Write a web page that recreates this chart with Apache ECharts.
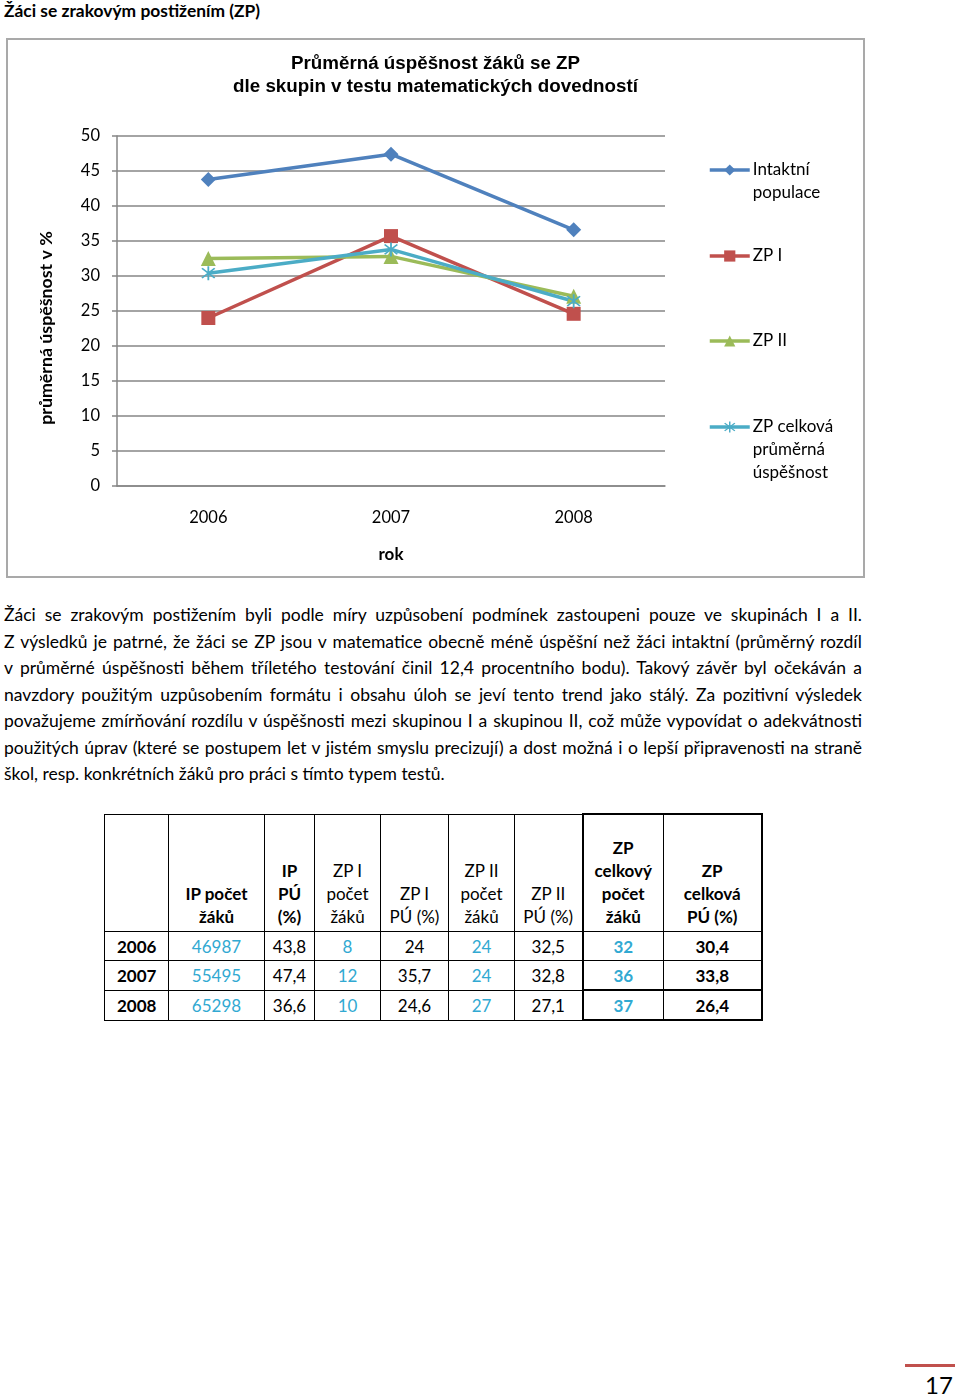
<!DOCTYPE html>
<html>
<head>
<meta charset="utf-8">
<script src="https://cdn.jsdelivr.net/npm/echarts@6/dist/echarts.min.js"></script>
<style>
  body { margin: 0; background: #fff; font-family: Lato, "Open Sans", sans-serif; color: #000; }
  .page { position: relative; width: 960px; height: 1399px; overflow: hidden; }
  .heading { position: absolute; left: 4px; top: 0px; font-weight: bold; font-size: 17.4px; }
  .box { position: absolute; left: 6px; top: 38px; width: 859px; height: 540px; box-sizing: border-box; border: 2px solid #a9a9a9; }
  #chart { width: 100%; height: 100%; }
  .para { position: absolute; left: 4px; top: 602px; width: 858px; font-size: 17.5px; line-height: 26.5px; }
  .para div { white-space: nowrap; text-align: justify; text-align-last: justify; }
  .para div.last { text-align-last: left; }
  table { position: absolute; left: 104px; top: 813px; width: 658px; table-layout: fixed; border-collapse: collapse; font-size: 17px; }
  td { border: 1px solid #000; padding: 0; text-align: center; overflow: hidden; white-space: nowrap; }
  thead td { height: 113px; vertical-align: bottom; padding-bottom: 3px; line-height: 23px; }
  tbody td { height: 28px; }
  td.b { font-weight: bold; }
  td.c { color: #31a9d2; }
  td.yr { text-align: left; padding-left: 12px; font-weight: bold; }
  td.tl { border-left: 2px solid #000; }
  td.tr { border-right: 2px solid #000; }
  td.tt { border-top: 2px solid #000; }
  td.tb { border-bottom: 2px solid #000; }
  .pnum { position: absolute; left: 925px; top: 1370px; font-size: 24px; }
  .pline { position: absolute; left: 905px; top: 1364px; width: 50px; height: 3px; background: #c0504d; }
</style>
</head>
<body>
<div class="page">
  <div class="heading">Žáci se zrakovým postižením (ZP)</div>
  <div class="box"><div id="chart"></div></div>
  <div class="para">
    <div>Žáci se zrakovým postižením byli podle míry uzpůsobení podmínek zastoupeni pouze ve skupinách I a II.</div>
    <div>Z výsledků je patrné, že žáci se ZP jsou v matematice obecně méně úspěšní než žáci intaktní (průměrný rozdíl</div>
    <div>v průměrné úspěšnosti během tříletého testování činil 12,4 procentního bodu). Takový závěr byl očekáván a</div>
    <div>navzdory použitým uzpůsobením formátu i obsahu úloh se jeví tento trend jako stálý. Za pozitivní výsledek</div>
    <div>považujeme zmírňování rozdílu v úspěšnosti mezi skupinou I a skupinou II, což může vypovídat o adekvátnosti</div>
    <div>použitých úprav (které se postupem let v jistém smyslu precizují) a dost možná i o lepší připravenosti na straně</div>
    <div class="last">škol, resp. konkrétních žáků pro práci s tímto typem testů.</div>
  </div>
  <table id="tbl"></table>
  <div class="pline"></div>
  <div class="pnum">17</div>
</div>
<script>
const years = ['2006', '2007', '2008'];
const intaktni = [43.8, 47.4, 36.6];
const zp1 = [24, 35.7, 24.6];
const zp2 = [32.5, 32.8, 27.1];
const zpCelkova = [30.4, 33.8, 26.4];

const ipPocet = [46987, 55495, 65298];
const zp1Pocet = [8, 12, 10];
const zp2Pocet = [24, 24, 27];
const zpPocet = [32, 36, 37];

const seriesNames = ['Intaktní\npopulace', 'ZP I', 'ZP II', 'ZP celková\nprůměrná\núspěšnost'];
const headers = ['', 'IP počet<br>žáků', 'IP<br>PÚ<br>(%)', 'ZP I<br>počet<br>žáků', 'ZP I<br>PÚ (%)',
  'ZP II<br>počet<br>žáků', 'ZP II<br>PÚ (%)', 'ZP<br>celkový<br>počet<br>žáků', 'ZP<br>celková<br>PÚ (%)'];
const colWidths = [64, 96, 50, 66, 68, 66, 68, 81, 98];

// table
const fmt = v => String(v).replace('.', ',');
let html = '<colgroup>' + colWidths.map(w => '<col style="width:' + w + 'px">').join('') + '</colgroup><thead><tr>';
headers.forEach((h, i) => {
  let cls = [];
  if (i === 1 || i === 2 || i === 7 || i === 8) cls.push('b');
  if (i === 7) cls.push('tl', 'tt');
  if (i === 8) cls.push('tr', 'tt');
  html += '<td class="' + cls.join(' ') + '">' + h + '</td>';
});
html += '</tr></thead><tbody>';
years.forEach((y, r) => {
  const last = r === years.length - 1;
  const edge = last ? ' tb' : '';
  const sep = r === 2 ? ' tt' : '';
  html += '<tr>' +
    '<td class="yr">' + y + '</td>' +
    '<td class="c">' + ipPocet[r] + '</td>' +
    '<td>' + fmt(intaktni[r]) + '</td>' +
    '<td class="c">' + zp1Pocet[r] + '</td>' +
    '<td>' + fmt(zp1[r]) + '</td>' +
    '<td class="c">' + zp2Pocet[r] + '</td>' +
    '<td>' + fmt(zp2[r]) + '</td>' +
    '<td class="c b tl' + edge + sep + '">' + zpPocet[r] + '</td>' +
    '<td class="b tr' + edge + sep + '">' + fmt(zpCelkova[r]) + '</td>' +
    '</tr>';
});
html += '</tbody>';
document.getElementById('tbl').innerHTML = html;

// chart
const asterisk = 'path://M9,0 L11,0 L11,20 L9,20 Z M3.7,2.3 L17.7,16.3 L16.3,17.7 L2.3,3.7 Z M16.3,2.3 L17.7,3.7 L3.7,17.7 L2.3,16.3 Z';
const colors = ['#4f81bd', '#c0504d', '#9bbb59', '#4bacc6'];
const symbols = ['diamond', 'rect', 'triangle', asterisk];
const symbolSizes = [15, 14, 15, 14];
const values = [intaktni, zp1, zp2, zpCelkova];
const legendIconY = [130, 216, 301, 387];
const fontFamily = 'Lato, "Open Sans", sans-serif';
const LH = 23;

const chart = echarts.init(document.getElementById('chart'));
chart.setOption({
  animation: false,
  color: colors,
  title: {
    text: 'Průměrná úspěšnost žáků se ZP\ndle skupin v testu matematických dovedností',
    left: 'center',
    top: 7,
    textStyle: { fontFamily: '"Liberation Sans", Arial, sans-serif', fontWeight: 'bold', fontSize: 18.8, lineHeight: 23, color: '#000' }
  },
  // one legend per series so that the icon sits on the first text line
  legend: seriesNames.map((n, i) => {
    const lines = n.split('\n').length;
    return {
      orient: 'vertical',
      left: 700,
      top: legendIconY[i] - (2 * lines - 1) * LH / 2,
      padding: 0,
      itemWidth: 40,
      itemHeight: 14,
      itemGap: 0,
      lineStyle: { width: 3.5 },
      data: [n],
      formatter: name => '\n'.repeat(lines - 1) + name,
      textStyle: { fontFamily, fontSize: 17, lineHeight: LH, color: '#000', padding: [0, 0, 0, -2] }
    };
  }),
  grid: { left: 109, right: 198, top: 96, bottom: 90 },
  xAxis: {
    type: 'category',
    data: years,
    name: 'rok',
    nameLocation: 'middle',
    nameGap: 60,
    nameTextStyle: { fontFamily, fontWeight: 'bold', fontSize: 17, color: '#000' },
    axisLine: { lineStyle: { color: '#868686', width: 1.5 } },
    axisTick: { show: false },
    axisLabel: { margin: 23, fontFamily, fontSize: 16.5, color: '#000' }
  },
  yAxis: {
    type: 'value',
    min: 0,
    max: 50,
    interval: 5,
    name: 'průměrná úspěšnost v %',
    nameLocation: 'middle',
    nameRotate: 90,
    nameGap: 62,
    nameTextStyle: { fontFamily, fontWeight: 'bold', fontSize: 17.8, color: '#000', padding: [0, 34, 0, 0] },
    axisLine: { show: true, lineStyle: { color: '#868686', width: 1.5 } },
    axisTick: { show: true, length: 5, lineStyle: { color: '#868686', width: 1.5 } },
    axisLabel: { margin: 17, fontFamily, fontSize: 16.5, color: '#000' },
    splitLine: { lineStyle: { color: '#868686', width: 1.5 } }
  },
  series: seriesNames.map((n, i) => ({
    name: n,
    type: 'line',
    data: values[i],
    symbol: symbols[i],
    symbolSize: symbolSizes[i],
    lineStyle: { width: 3.5, color: colors[i] },
    itemStyle: { color: colors[i] }
  }))
});
</script>
</body>
</html>
